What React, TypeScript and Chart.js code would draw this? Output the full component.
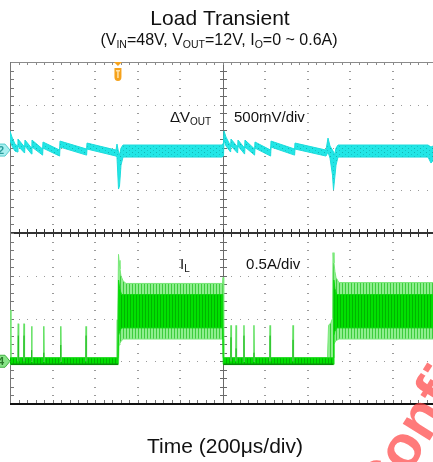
import React, { useEffect, useRef } from 'react';
import { Chart, registerables } from 'chart.js';

Chart.register(...registerables);

const FONT = "'Liberation Sans', Arial, sans-serif";

// ---- screen / axis setup ----
const timeMin = 0;      // µs
const timeMax = 2000;   // µs (200 µs/div, 10 div)
const gridDivX = 10;
const gridDivY = 8;
const triggerTime = 508; // µs

// channel 2: ΔVout (500 mV/div), channel 4: IL (0.5 A/div)
const ch2Offset = 5.94; // div from bottom
const ch2Scale = 500;   // mV/div
const ch4Offset = 1.0;  // div from bottom
const ch4Scale = 0.5;   // A/div

// ---- ΔVout trace envelope (µs, mV upper, mV lower) ----
const vTime = [0, 9.4, 23.5, 35.8, 37.6, 68.7, 70.6, 101.6, 103.5, 153.4, 155.3, 233.4, 235.3, 360.5, 362.4, 498.8, 503.5, 510.6, 515.3, 522.4, 531.8, 997.7,
  1004.7, 1007.1, 1016.5, 1038.1, 1040, 1071.1, 1073, 1104, 1105.9, 1151.1, 1153, 1226.4, 1228.3, 1339.3, 1341.2, 1487.1, 1496.5, 1505.9, 1517.6, 1522.4, 1527.1, 1534.2, 1543.6, 1967.1, 1981.2, 2000];
const vUpper = [222, 152, 70, 47, 129, 35, 117, 23, 117, 12, 94, 0, 105, 12, 82, 0, 70, -23, -59, 23, 59, 59,
  82, 222, 152, 47, 129, 35, 117, 23, 117, 12, 94, 0, 105, 12, 82, 0, 140, 47, 0, -23, -59, 23, 59, 59, 35, 59];
const vLower = [117, 47, -12, -23, 47, -35, 47, -47, 35, -59, 23, -70, 35, -59, 12, -70, -82, -456, -421, -176, -82, -82,
  -70, 117, 47, -23, 47, -35, 47, -47, 35, -59, 23, -70, 35, -59, 12, -70, -23, -94, -293, -468, -351, -176, -82, -82, -152, -94];

// ---- IL outer envelope (µs, A upper, A lower) ----
const ilTime = [0, 4.7, 501, 503.5, 507, 510.6, 513, 517.6, 522, 532, 546, 1000, 1002.4, 1004.7, 1007, 1494, 1499, 1510, 1517.6, 1520, 1524.7, 1529, 1534, 1548, 2000];
const ilOuterUp = [0.6, 0.04, 0.04, 0.48, 0.5, 1.25, 1.18, 1.08, 1.0, 0.94, 0.91, 0.91, 0.98, 0.6, 0.04, 0.04, 0.42, 0.45, 0.5, 1.27, 1.15, 1.05, 0.98, 0.92, 0.92];
const ilOuterLow = [-0.04, -0.04, -0.04, -0.04, -0.04, -0.04, 0.19, 0.21, 0.23, 0.26, 0.26, 0.26, 0.26, -0.04, -0.04, -0.04, -0.04, -0.04, -0.04, -0.04, 0.2, 0.22, 0.24, 0.26, 0.26];

// ---- IL dense core (µs, A upper, A lower) ----
const ilCoreTime = [0, 508, 511, 516, 525, 1001, 1003.5, 1521, 1524, 1529, 1538, 2000];
const ilCoreUp = [0.04, 0.04, 0.95, 0.85, 0.78, 0.78, 0.04, 0.04, 0.95, 0.85, 0.78, 0.78];
const ilCoreLow = [-0.035, -0.035, 0.3, 0.35, 0.39, 0.39, -0.035, -0.035, 0.3, 0.35, 0.39, 0.39];

// ---- IL zero-load band edge segments (µs) ----
const ilZeroStart = [5, 1004];
const ilZeroEnd = [508, 1521];
const ilZeroEdge = -0.035;

// ---- IL pulse-skipping spikes (µs, A peak, A dark part) ----
const ilSpikeTime = [39, 66, 102, 159, 239, 358, 1040, 1064, 1101, 1148, 1224, 1332];
const ilSpikePeak = [0.44, 0.44, 0.41, 0.41, 0.41, 0.41, 0.42, 0.42, 0.42, 0.42, 0.42, 0.42];
const ilSpikeDark = [0.3, 0.3, 0.13, 0.1, 0.19, 0.3, 0.28, 0.15, 0.3, 0.1, 0.3, 0.25];

// ---- annotations (µs, div) ----
const labelTime = [753, 1054, 800, 1111];
const labelDiv = [6.6, 6.6, 3.16, 3.16];

const toV = (mv: number) => ch2Offset + mv / ch2Scale;
const toI = (a: number) => ch4Offset + a / ch4Scale;

function makePattern(w: number, h: number, base: string, marks: [number, number, string][]) {
  const c = document.createElement('canvas');
  c.width = w; c.height = h;
  const g = c.getContext('2d')!;
  g.fillStyle = base; g.fillRect(0, 0, w, h);
  marks.forEach(([x, y, col]) => { g.fillStyle = col; g.fillRect(x, y, 1, 1); });
  return g.createPattern(c, 'repeat')!;
}

type Part = { t: string; sub?: boolean };
function drawRich(ctx: CanvasRenderingContext2D, parts: Part[], x: number, y: number, size: number, subSize: number, align: 'left' | 'center') {
  const fMain = `${size}px ${FONT}`;
  const fSub = `${subSize}px ${FONT}`;
  let w = 0;
  parts.forEach(p => { ctx.font = p.sub ? fSub : fMain; w += ctx.measureText(p.t).width; });
  let cx = align === 'center' ? x - w / 2 : x;
  ctx.textAlign = 'left';
  ctx.textBaseline = 'alphabetic';
  parts.forEach(p => {
    ctx.font = p.sub ? fSub : fMain;
    ctx.fillText(p.t, cx, p.sub ? y + subSize * 0.32 : y);
    cx += ctx.measureText(p.t).width;
  });
}

const gridPlugin = {
  id: 'scopeGrid',
  beforeDatasetsDraw(chart: any) {
    const { ctx, scales: { x, y } } = chart;
    const px = (t: number) => Math.round(x.getPixelForValue(t));
    const py = (d: number) => Math.round(y.getPixelForValue(d));
    const stepT = (timeMax - timeMin) / gridDivX;
    ctx.save();
    // dotted grid
    ctx.fillStyle = '#9a9a9a';
    for (let i = 1; i < gridDivX; i++) {
      if (i === gridDivX / 2) continue;
      const gx = px(timeMin + i * stepT);
      for (let j = 1; j < gridDivY * 5; j++) ctx.fillRect(gx - 1, py(j / 5), 2, 1);
    }
    for (let j = 1; j < gridDivY; j++) {
      if (j === gridDivY / 2) continue;
      const gy = py(j);
      for (let i = 1; i < gridDivX * 5; i++) ctx.fillRect(px(timeMin + (i * stepT) / 5), gy, 1, 1);
    }
    // center lines
    const cxp = px(timeMin + (gridDivX / 2) * stepT);
    const cyp = py(gridDivY / 2);
    ctx.fillStyle = '#6a6a6a';
    ctx.fillRect(cxp, py(gridDivY), 1, py(0) - py(gridDivY));
    for (let j = 1; j < gridDivY * 5; j++) ctx.fillRect(cxp - 3, py(j / 5), 7, 1);
    ctx.fillStyle = '#333';
    ctx.fillRect(px(timeMin), cyp - 1, px(timeMax) - px(timeMin), 2);
    for (let i = 1; i < gridDivX * 5; i++) ctx.fillRect(px(timeMin + (i * stepT) / 5), cyp - 4, 1, 8);
    // borders
    ctx.fillStyle = '#8a8a8a';
    ctx.fillRect(px(timeMin), py(gridDivY), px(timeMax) - px(timeMin), 1);
    for (let i = 1; i < gridDivX * 5; i++) ctx.fillRect(px(timeMin + (i * stepT) / 5), py(gridDivY), 1, 3);
    ctx.fillStyle = '#777';
    ctx.fillRect(px(timeMin), py(gridDivY), 1, py(0) - py(gridDivY));
    for (let j = 1; j < gridDivY * 5; j++) ctx.fillRect(px(timeMin), py(j / 5), 4, 1);
    ctx.fillStyle = '#111';
    ctx.fillRect(px(timeMin), py(0) - 1, px(timeMax) - px(timeMin), 2);
    ctx.fillStyle = '#777';
    for (let i = 1; i < gridDivX * 5; i++) ctx.fillRect(px(timeMin + (i * stepT) / 5), py(0) - 4, 1, 3);
    ctx.restore();
  },
};

function marker(ctx: CanvasRenderingContext2D, cy: number, fill: string, stroke: string, txtCol: string, label: string) {
  ctx.beginPath();
  ctx.moveTo(-10, cy - 6);
  ctx.lineTo(5, cy - 6);
  ctx.lineTo(10, cy);
  ctx.lineTo(5, cy + 6);
  ctx.lineTo(-10, cy + 6);
  ctx.closePath();
  ctx.fillStyle = fill; ctx.fill();
  ctx.strokeStyle = stroke; ctx.lineWidth = 1; ctx.stroke();
  ctx.fillStyle = txtCol;
  ctx.font = `bold 11px ${FONT}`;
  ctx.textAlign = 'center';
  ctx.textBaseline = 'middle';
  ctx.fillText(label, 1, cy + 0.5);
}

const overlayPlugin = {
  id: 'scopeOverlay',
  afterDraw(chart: any) {
    const { ctx, scales: { x, y } } = chart;
    ctx.save();
    // channel markers
    marker(ctx, y.getPixelForValue(ch2Offset), '#a8f0f0', '#55cccc', '#2c9c9c', '2');
    marker(ctx, y.getPixelForValue(ch4Offset), '#86e486', '#40b040', '#2a7a2a', '4');
    // trigger marker
    const tx = x.getPixelForValue(triggerTime);
    const top = y.getPixelForValue(gridDivY);
    ctx.fillStyle = '#f5a21c';
    ctx.beginPath();
    ctx.moveTo(tx - 4, top); ctx.lineTo(tx + 4, top); ctx.lineTo(tx, top + 4); ctx.closePath(); ctx.fill();
    ctx.beginPath();
    ctx.moveTo(tx - 3.5, top + 6); ctx.lineTo(tx + 3.5, top + 6); ctx.lineTo(tx + 3.5, top + 15);
    ctx.quadraticCurveTo(tx + 3.5, top + 19, tx, top + 19);
    ctx.quadraticCurveTo(tx - 3.5, top + 19, tx - 3.5, top + 15);
    ctx.closePath(); ctx.fill();
    ctx.fillStyle = '#ffe2a8';
    ctx.fillRect(tx - 2, top + 8, 4, 1.5);
    ctx.fillRect(tx - 0.75, top + 8, 1.5, 8);

    // titles
    ctx.fillStyle = '#111';
    ctx.font = `21px ${FONT}`;
    ctx.textAlign = 'center';
    ctx.textBaseline = 'alphabetic';
    ctx.fillText('Load Transient', 220, 25);
    drawRich(ctx, [
      { t: '(V' }, { t: 'IN', sub: true }, { t: '=48V, V' }, { t: 'OUT', sub: true }, { t: '=12V, I' }, { t: 'O', sub: true }, { t: '=0 ~ 0.6A)' },
    ], 219, 45, 16, 10.5, 'center');
    ctx.font = `21px ${FONT}`;
    ctx.textAlign = 'center';
    ctx.fillText('Time (200μs/div)', 225, 453);

    // trace annotations
    const lx = labelTime.map(t => x.getPixelForValue(t));
    const ly = labelDiv.map(d => y.getPixelForValue(d));
    drawRich(ctx, [{ t: 'ΔV' }, { t: 'OUT', sub: true }], lx[0], ly[0], 15, 10, 'left');
    drawRich(ctx, [{ t: '500mV/div' }], lx[1], ly[1], 15, 10, 'left');
    drawRich(ctx, [{ t: 'I' }, { t: 'L', sub: true }], lx[2], ly[2], 15, 10, 'left');
    drawRich(ctx, [{ t: '0.5A/div' }], lx[3], ly[3], 15, 10, 'left');

    // watermark
    ctx.save();
    ctx.translate(371, 503);
    ctx.rotate((-58 * Math.PI) / 180);
    ctx.font = `bold 60px ${FONT}`;
    ctx.fillStyle = 'rgba(255,70,70,0.72)';
    ctx.textAlign = 'left';
    ctx.textBaseline = 'middle';
    ctx.fillText('Confidential', 0, 0);
    ctx.restore();
    ctx.restore();
  },
};

export default function App() {
  const ref = useRef<HTMLCanvasElement>(null);
  useEffect(() => {
    const cyanPat = makePattern(6, 4, '#22e6e6', [[0, 0, '#12b4b4'], [3, 2, '#16c4c4']]);
    const outerPat = makePattern(3, 1, '#8eee8e', [[0, 0, '#3ccc3c']]);
    const corePat = makePattern(3, 1, '#00e000', [[1, 0, '#00b400']]);

    const spikePts: any[] = [];
    const spikeDarkPts: any[] = [];
    ilSpikeTime.forEach((t, i) => {
      spikePts.push({ x: t - 1.5, y: toI(0) }, { x: t, y: toI(ilSpikePeak[i]) }, { x: t + 1.5, y: toI(0) }, { x: t + 1.6, y: null });
      spikeDarkPts.push({ x: t, y: toI(0) }, { x: t, y: toI(ilSpikeDark[i]) }, { x: t + 0.1, y: null });
    });
    const zeroPts: any[] = [];
    ilZeroStart.forEach((s, i) => {
      zeroPts.push({ x: s, y: toI(ilZeroEdge) }, { x: ilZeroEnd[i], y: toI(ilZeroEdge) }, { x: ilZeroEnd[i] + 0.1, y: null });
    });

    const line = (data: any[], color: string, width: number, order: number, extra: any = {}) => ({
      data, borderColor: color, borderWidth: width, pointRadius: 0, fill: false, order, spanGaps: false, tension: 0, ...extra,
    });

    const chart = new Chart(ref.current!, {
      type: 'line',
      data: {
        datasets: [
          line(vTime.map((t, i) => ({ x: t, y: toV(vUpper[i]) })), '#1cdcdc', 1, 5),
          line(vTime.map((t, i) => ({ x: t, y: toV(vLower[i]) })), '#1cdcdc', 1, 5, { fill: '-1', backgroundColor: cyanPat }),
          line(ilTime.map((t, i) => ({ x: t, y: toI(ilOuterUp[i]) })), '#78e878', 1, 4),
          line(ilTime.map((t, i) => ({ x: t, y: toI(ilOuterLow[i]) })), '#78e878', 1, 4, { fill: '-1', backgroundColor: outerPat }),
          line(ilCoreTime.map((t, i) => ({ x: t, y: toI(ilCoreUp[i]) })), '#10d810', 1, 3),
          line(ilCoreTime.map((t, i) => ({ x: t, y: toI(ilCoreLow[i]) })), '#10d810', 1, 3, { fill: '-1', backgroundColor: corePat }),
          line(zeroPts, '#0a8a0a', 1.5, 2),
          line(spikePts, '#62e062', 1.5, 1),
          line(spikeDarkPts, '#17b817', 1, 0),
        ],
      },
      options: {
        animation: false,
        responsive: false,
        maintainAspectRatio: false,
        devicePixelRatio: 1,
        layout: { padding: { left: 10, right: 10, top: 62, bottom: 58 } },
        scales: {
          x: { type: 'linear', min: timeMin, max: timeMax, display: false },
          y: { type: 'linear', min: 0, max: gridDivY, display: false },
        },
        plugins: { legend: { display: false }, tooltip: { enabled: false }, title: { display: false } },
        elements: { point: { radius: 0 } },
      },
      plugins: [gridPlugin, overlayPlugin],
    } as any);
    return () => chart.destroy();
  }, []);

  return (
    <div style={{ position: 'fixed', left: 0, top: 0, width: 433, height: 462, overflow: 'hidden', background: '#fff' }}>
      <canvas ref={ref} width={445} height={462} style={{ display: 'block' }} />
    </div>
  );
}
